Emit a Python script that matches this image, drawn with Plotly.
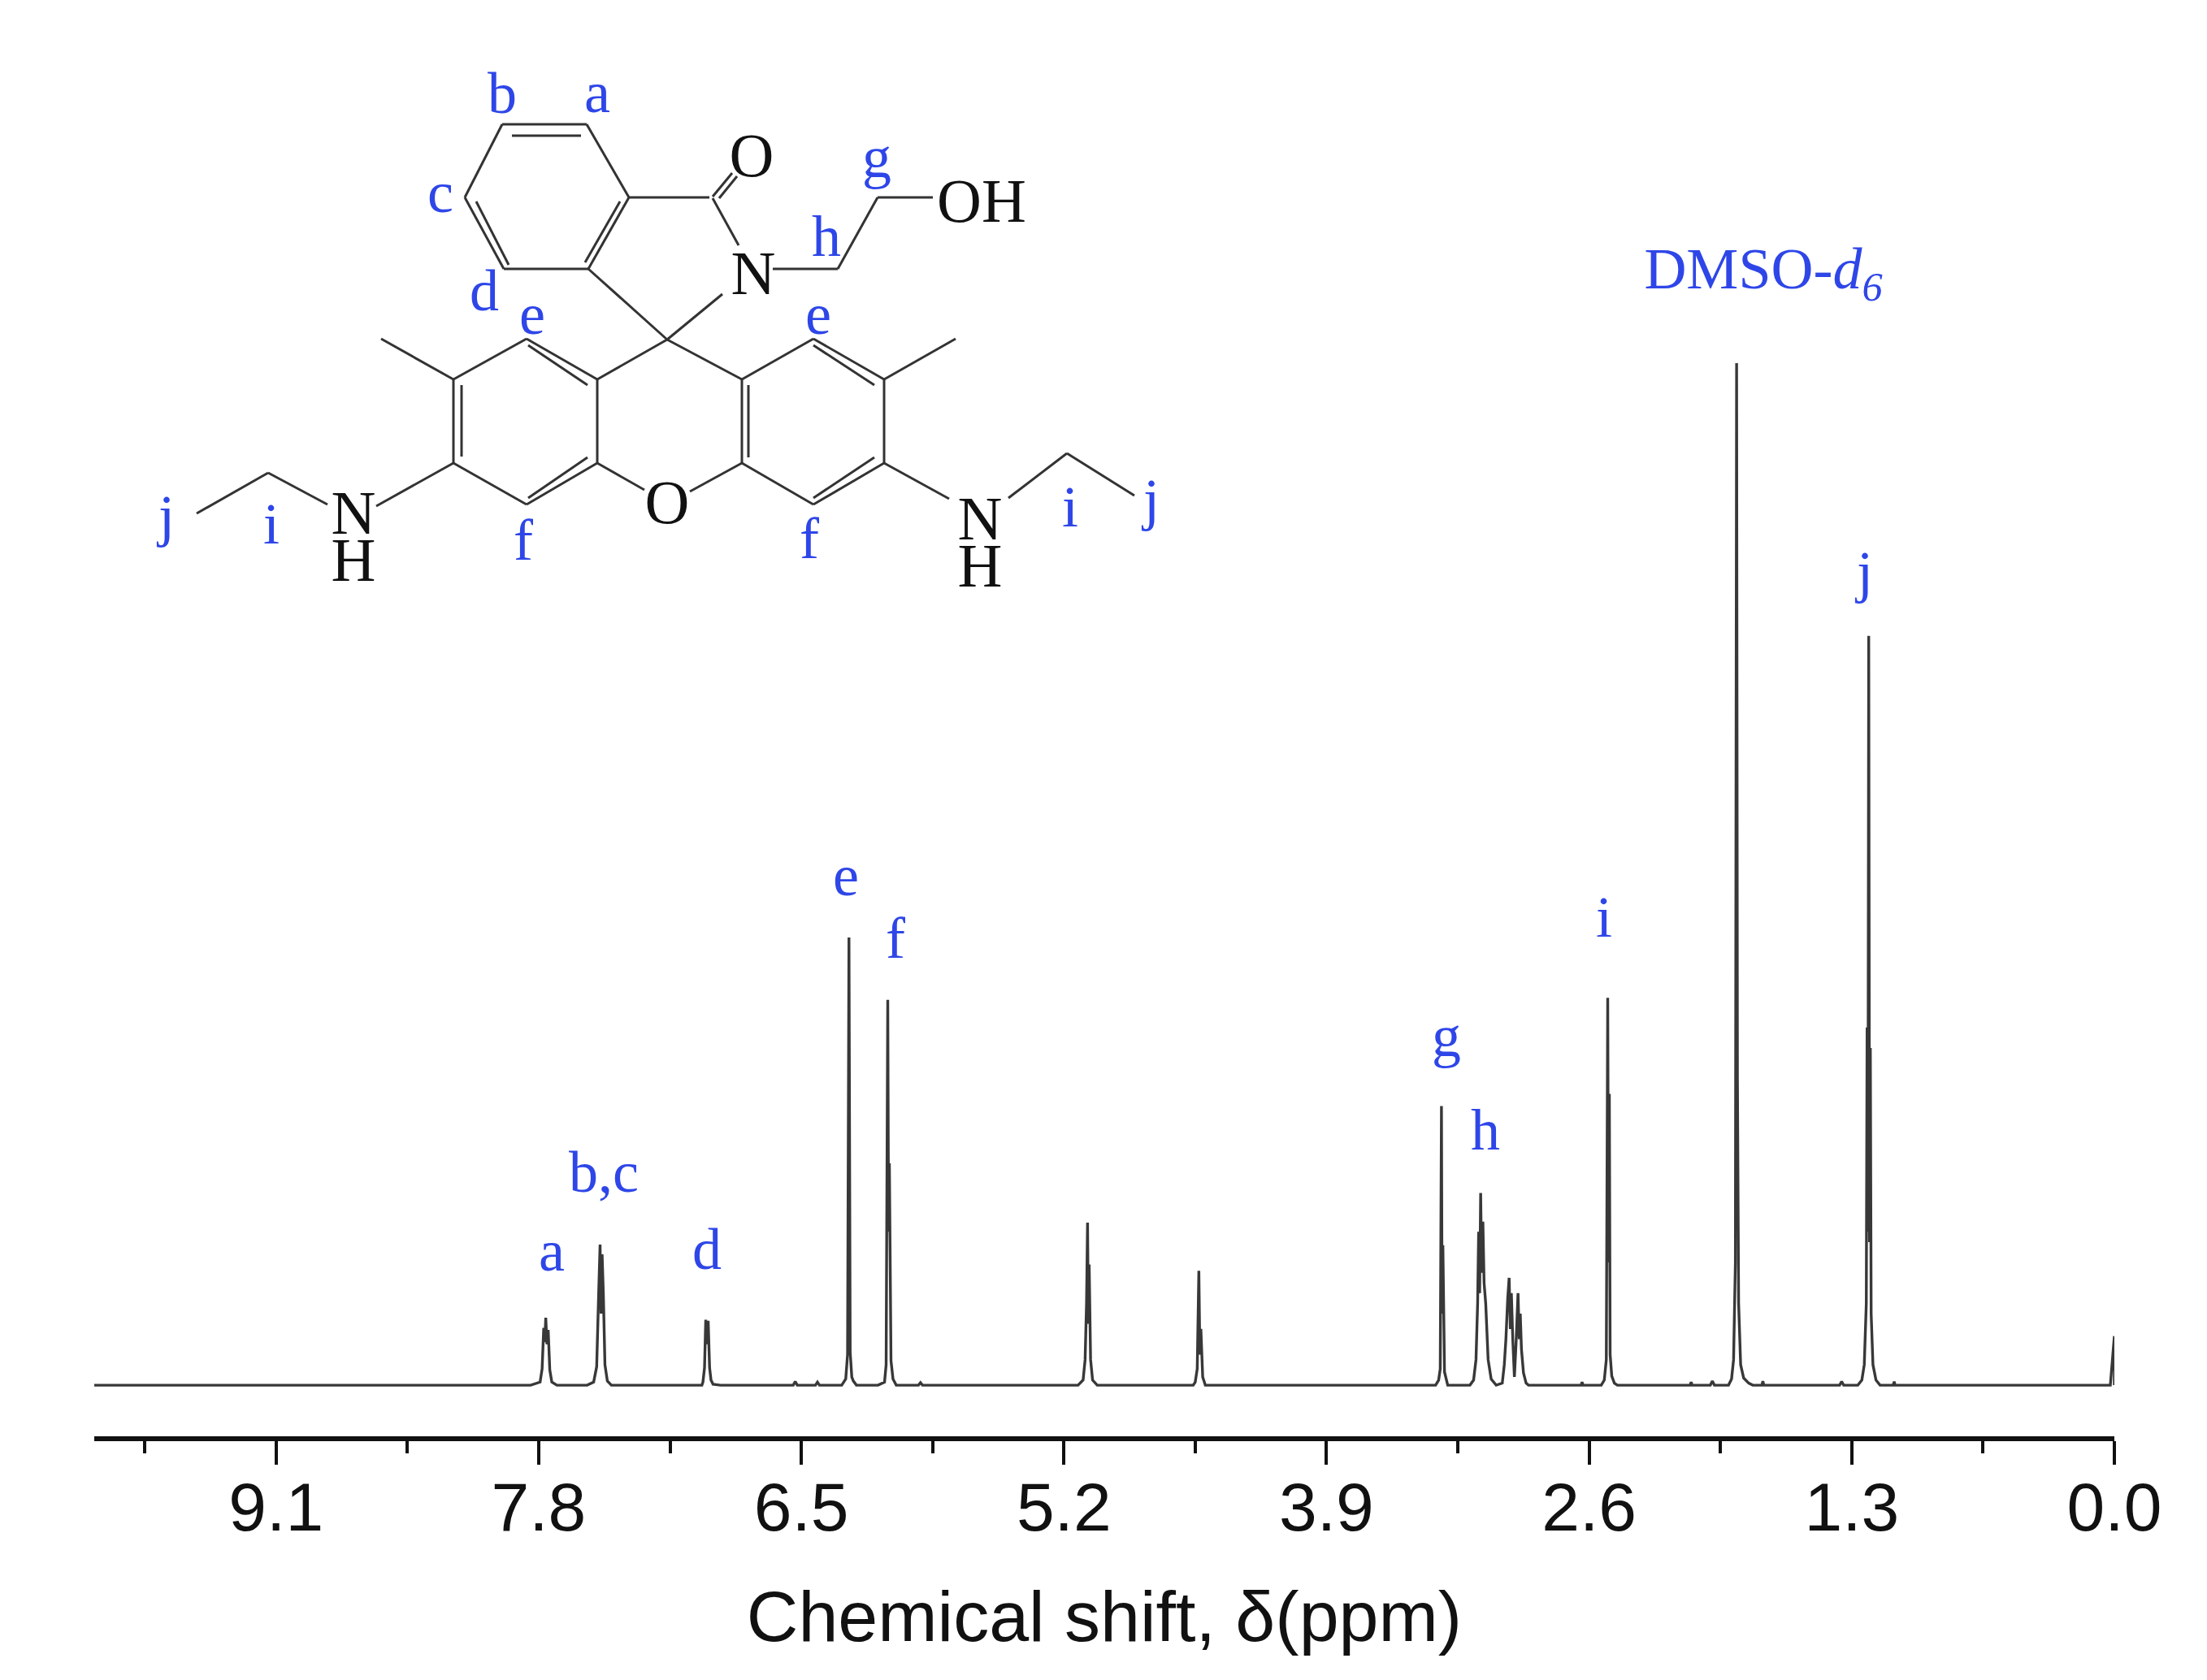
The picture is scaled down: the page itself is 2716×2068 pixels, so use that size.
import plotly.graph_objects as go

# ---------- spectrum ----------
ppm = [10.0, 8.6, 7.84, 7.793, 7.783, 7.775, 7.77, 7.765, 7.759, 7.753, 7.745, 7.735, 7.71, 7.66, 7.56, 7.528, 7.513, 7.503, 7.496, 7.491, 7.486, 7.48, 7.472, 7.46, 7.44,
       7.0, 6.992, 6.987, 6.979, 6.973, 6.967, 6.961, 6.954, 6.947, 6.937, 6.9, 6.54, 6.53, 6.52, 6.43, 6.42, 6.41, 6.30, 6.28, 6.271, 6.264, 6.258, 6.25, 6.242, 6.227, 6.12, 6.088, 6.08, 6.072, 6.068, 6.064, 6.056, 6.046, 6.03, 5.92, 5.91, 5.90,
       5.13, 5.105, 5.095, 5.088, 5.083, 5.079, 5.075, 5.068, 5.058, 5.035, 4.56, 4.55, 4.54, 4.532, 4.527, 4.522, 4.513, 4.50,
       3.36, 3.345, 3.337, 3.331, 3.328, 3.324, 3.316, 3.30, 3.19, 3.172, 3.16, 3.152, 3.147, 3.142, 3.137, 3.132, 3.126, 3.12, 3.112, 3.10, 3.085, 3.06, 3.03, 3.02, 3.012, 3.003, 2.996, 2.99, 2.985, 2.978, 2.970, 2.962, 2.952, 2.946, 2.941, 2.935, 2.925, 2.912, 2.90, 2.88,
       2.64, 2.635, 2.63, 2.54, 2.525, 2.515, 2.508, 2.504, 2.500, 2.496, 2.488, 2.475, 2.46, 2.10, 2.095, 2.09, 2.0, 1.99, 1.98, 1.91, 1.895, 1.885, 1.876, 1.870, 1.866, 1.860, 1.85, 1.835, 1.81, 1.79, 1.745, 1.74, 1.735,
       1.36, 1.35, 1.34, 1.27, 1.25, 1.238, 1.228, 1.224, 1.220, 1.216, 1.212, 1.208, 1.204, 1.195, 1.18, 1.16, 1.095, 1.09, 1.085, 0.75, 0.02, 0.0, 0.0]
intensity = [0, 0, 0, 0.3, 1.6, 5.6, 4.2, 6.6, 4.0, 5.4, 1.5, 0.3, 0, 0, 0, 0.3, 1.8, 9.0, 13.75, 7.0, 12.8, 9.0, 2.0, 0.4, 0,
             0, 0, 0.3, 1.7, 6.4, 4.0, 6.3, 1.7, 0.5, 0.1, 0, 0, 0.35, 0, 0, 0.3, 0, 0, 0.6, 3.0, 43.8, 3.2, 0.8, 0.4, 0, 0, 0.3, 2.0, 37.7, 15, 21.7, 2.4, 0.6, 0, 0, 0.25, 0,
             0, 0.5, 2.5, 8.0, 15.9, 6.0, 11.8, 2.5, 0.5, 0, 0, 0.3, 1.6, 11.2, 3.0, 5.5, 0.8, 0,
             0, 0.5, 1.6, 27.3, 7.0, 13.7, 1.3, 0, 0, 0.5, 2.5, 8.0, 15.0, 9.0, 18.8, 11.0, 16.0, 10.0, 8.0, 2.5, 0.6, 0, 0.2, 2.0, 4.5, 8.5, 10.5, 5.5, 9.0, 4.5, 0.8, 4.0, 9.0, 4.5, 7.0, 3.5, 1.2, 0.2, 0, 0,
             0, 0.3, 0, 0, 0.5, 2.5, 37.9, 12, 28.5, 3.0, 0.9, 0.2, 0, 0, 0.3, 0, 0, 0.4, 0, 0, 0.6, 2.5, 12, 100, 30, 8.0, 2.0, 0.7, 0.2, 0, 0, 0.4, 0,
             0, 0.35, 0, 0, 0.5, 2.0, 8.0, 35, 15, 73.3, 14, 33, 7.0, 2.0, 0.5, 0, 0, 0.35, 0, 0, 0, 4.8, 0]
tick_major = 1.3
tick_minor = 0.65

# ---------- inset structure (figure pixels) ----------
bond_x = [618, 722, None, 722, 774, None, 774, 724, None, 724, 620, None, 620, 572, None, 572, 618, None,
          630, 715, None, 763, 720, None, 626, 586, None,
          774, 873, None, 877, 901, None, 885, 907, None, 877, 909, None, 951, 1031, None, 1031, 1080, None, 1080, 1148, None,
          724, 821, None, 889, 821, None,
          821, 735, None, 735, 648, None, 648, 558, None, 558, 558, None, 558, 648, None, 648, 735, None, 735, 735, None,
          650, 723, None, 568, 568, None, 650, 723, None, 558, 469, None,
          735, 793, None, 849, 913, None,
          821, 913, None, 913, 1001, None, 1001, 1088, None, 1088, 1088, None, 1088, 1001, None, 1001, 913, None, 913, 913, None,
          921, 921, None, 1001, 1076, None, 1076, 1001, None, 1088, 1176, None,
          558, 463, None, 403, 330, None, 330, 242, None,
          1088, 1168, None, 1241, 1313, None, 1313, 1396]
bond_y = [153, 153, None, 153, 243, None, 243, 331, None, 331, 331, None, 331, 243, None, 243, 153, None,
          167, 167, None, 248, 323, None, 326, 248, None,
          243, 243, None, 242, 213, None, 244, 217, None, 244, 302, None, 331, 331, None, 331, 243, None, 243, 243, None,
          331, 418, None, 362, 418, None,
          418, 467, None, 467, 417, None, 417, 467, None, 467, 570, None, 570, 621, None, 621, 570, None, 570, 467, None,
          425, 474, None, 474, 562, None, 613, 563, None, 467, 417, None,
          570, 603, None, 605, 570, None,
          418, 467, None, 467, 417, None, 417, 467, None, 467, 570, None, 570, 621, None, 621, 570, None, 570, 467, None,
          474, 563, None, 425, 474, None, 563, 613, None, 467, 417, None,
          570, 623, None, 621, 582, None, 582, 632, None,
          570, 614, None, 613, 558, None, 558, 610]
atom_text = ["O", "OH", "N", "O", "N", "H", "N", "H"]
atom_x = [925, 1208, 927, 821, 435, 435, 1206, 1206]
atom_y = [198, 254, 343, 625, 638, 696, 645, 703]

label_text = ["a", "b", "c", "d", "e", "e", "f", "f", "g", "h", "j", "i", "i", "j",
              "a", "b,c", "d", "e", "f", "g", "h", "i", "DMSO-<i>d<sub>6</sub></i>", "j"]
label_x = [735, 618, 542, 596, 655, 1007, 644, 996, 1079, 1017, 205, 334, 1317, 1417,
           679, 743, 870, 1041, 1102, 1780, 1828, 1974, 2170, 2295]
label_y = [120, 121, 243, 364, 393, 393, 671, 669, 200, 297, 641, 651, 630, 621,
           1546, 1449, 1544, 1084, 1161, 1282, 1397, 1135, 337, 710]

BLUE = "#2e46e8"
fig = go.Figure()
fig.add_trace(go.Scatter(x=ppm, y=intensity, mode="lines", cliponaxis=False,
                         line=dict(color="#383838", width=3.4), hoverinfo="skip"))
fig.add_trace(go.Scatter(x=bond_x, y=bond_y, xaxis="x2", yaxis="y2", mode="lines",
                         line=dict(color="#333333", width=3), hoverinfo="skip"))
fig.add_trace(go.Scatter(x=atom_x, y=atom_y, xaxis="x2", yaxis="y2", mode="text", text=atom_text,
                         textposition="middle center", hoverinfo="skip",
                         textfont=dict(family="Liberation Serif", size=76, color="#111111")))
fig.add_trace(go.Scatter(x=label_x, y=label_y, xaxis="x2", yaxis="y2", mode="text", text=label_text,
                         textposition="middle center", hoverinfo="skip",
                         textfont=dict(family="Liberation Serif", size=72, color=BLUE)))

fig.update_layout(
    template="none",
    width=2716, height=2068, showlegend=False,
    margin=dict(l=0, r=0, t=0, b=0, pad=0),
    paper_bgcolor="white", plot_bgcolor="rgba(0,0,0,0)",
    xaxis=dict(domain=[116 / 2716, 2602 / 2716], range=[10, 0], anchor="y", automargin=False,
               tick0=0, dtick=tick_major, tickformat=".1f",
               ticks="outside", ticklen=29, tickwidth=4, tickcolor="#111111", ticklabelstandoff=-20,
               minor=dict(tick0=0, dtick=tick_minor, ticks="outside", ticklen=15, tickwidth=4, tickcolor="#111111", showgrid=False),
               showline=True, linewidth=6, linecolor="#111111", showgrid=False, zeroline=False,
               tickfont=dict(family="Liberation Sans", size=84, color="#111111"),
               title=dict(text="Chemical shift, δ(ppm)", standoff=60,
                          font=dict(family="Liberation Sans", size=88, color="#111111"))),
    yaxis=dict(domain=[300 / 2068, 1684 / 2068], range=[-5, 105], visible=False, anchor="x", automargin=False),
    xaxis2=dict(domain=[0, 1], range=[0, 2716], visible=False, anchor="y2", automargin=False),
    yaxis2=dict(domain=[0, 1], range=[2068, 0], visible=False, anchor="x2", automargin=False),
)
fig.write_html("out.html", config={"displayModeBar": False}, post_script="document.body.style.margin='0';")
